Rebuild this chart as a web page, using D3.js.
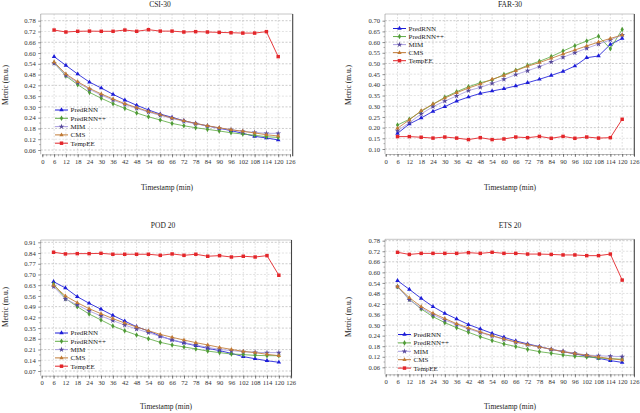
<!DOCTYPE html>
<html><head><meta charset="utf-8">
<script src="https://cdn.jsdelivr.net/npm/d3@7/dist/d3.min.js"></script>
<style>
body{margin:0;background:#fff}
svg{display:block}
text{font-family:"Liberation Serif","Times New Roman",serif}
</style>
</head><body>
<svg id="c" width="640" height="413"></svg>
<script>
// ---------------- data ----------------
const times = [6,12,18,24,30,36,42,48,54,60,66,72,78,84,90,96,102,108,114,120];
const xTickLabels = [0,6,12,18,24,30,36,42,48,54,60,66,72,78,84,90,96,102,108,114,120,126];
const seriesNames = ["PredRNN","PredRNN++","MIM","CMS","TempEE"];
const panelTitles = ["CSI-30","FAR-30","POD 20","ETS 20"];
const xAxisTitle = "Timestamp (min)";
const yAxisTitle = "Metric (m.u.)";

const yTicksCSI = [0.06,0.12,0.18,0.24,0.30,0.36,0.42,0.48,0.54,0.60,0.66,0.72,0.78];
const yTicksFAR = [0.10,0.15,0.20,0.25,0.30,0.35,0.40,0.45,0.50,0.55,0.60,0.65,0.70];
const yTicksPOD = [0.07,0.14,0.21,0.28,0.35,0.42,0.49,0.56,0.63,0.70,0.77,0.84,0.91];
const yTicksETS = [0.06,0.12,0.18,0.24,0.30,0.36,0.42,0.48,0.54,0.60,0.66,0.72,0.78];

// CSI-30
const csiPredRNN   = [0.580,0.531,0.483,0.438,0.405,0.370,0.338,0.309,0.283,0.260,0.242,0.223,0.208,0.194,0.181,0.168,0.153,0.136,0.127,0.116];
const csiPredRNNpp = [0.546,0.472,0.424,0.381,0.348,0.318,0.292,0.266,0.245,0.227,0.208,0.195,0.184,0.175,0.166,0.156,0.149,0.142,0.134,0.130];
const csiMIM       = [0.542,0.476,0.435,0.398,0.366,0.338,0.314,0.292,0.271,0.253,0.236,0.219,0.206,0.194,0.182,0.173,0.164,0.158,0.153,0.153];
const csiCMS       = [0.550,0.483,0.440,0.403,0.372,0.344,0.318,0.296,0.275,0.257,0.238,0.223,0.208,0.195,0.184,0.173,0.164,0.155,0.145,0.138];
const csiTempEE    = [0.728,0.717,0.721,0.722,0.721,0.721,0.728,0.721,0.730,0.722,0.722,0.717,0.719,0.717,0.715,0.713,0.711,0.711,0.719,0.580];

// FAR-30
const farPredRNN   = [0.173,0.217,0.245,0.276,0.298,0.324,0.343,0.360,0.371,0.382,0.395,0.410,0.426,0.444,0.463,0.488,0.527,0.535,0.589,0.617];
const farPredRNNpp = [0.212,0.239,0.276,0.309,0.342,0.368,0.391,0.410,0.423,0.448,0.468,0.491,0.510,0.532,0.558,0.583,0.605,0.627,0.569,0.659];
const farMIM       = [0.186,0.223,0.264,0.298,0.324,0.348,0.373,0.388,0.407,0.426,0.448,0.466,0.485,0.507,0.529,0.550,0.571,0.591,0.610,0.633];
const farCMS       = [0.197,0.236,0.279,0.310,0.338,0.363,0.385,0.404,0.426,0.444,0.466,0.487,0.504,0.524,0.544,0.563,0.582,0.600,0.617,0.633];
const farTempEE    = [0.158,0.158,0.155,0.151,0.156,0.151,0.144,0.153,0.144,0.147,0.156,0.153,0.159,0.150,0.159,0.150,0.156,0.151,0.153,0.239];

// POD-20
const podPredRNN   = [0.653,0.612,0.555,0.512,0.473,0.433,0.396,0.359,0.331,0.298,0.272,0.253,0.235,0.218,0.203,0.185,0.164,0.150,0.137,0.127];
const podPredRNNpp = [0.638,0.544,0.490,0.442,0.403,0.364,0.333,0.305,0.281,0.257,0.240,0.227,0.214,0.200,0.190,0.181,0.177,0.172,0.170,0.170];
const podMIM       = [0.621,0.540,0.501,0.462,0.429,0.399,0.370,0.344,0.320,0.296,0.274,0.255,0.240,0.224,0.211,0.203,0.196,0.192,0.190,0.190];
const podCMS       = [0.629,0.560,0.516,0.477,0.444,0.412,0.383,0.357,0.333,0.309,0.290,0.272,0.255,0.240,0.224,0.211,0.198,0.190,0.179,0.170];
const podTempEE    = [0.845,0.834,0.836,0.836,0.838,0.832,0.832,0.832,0.832,0.825,0.834,0.825,0.832,0.819,0.823,0.814,0.819,0.814,0.823,0.695];

// ETS-20
const etsPredRNN   = [0.553,0.503,0.452,0.405,0.367,0.335,0.303,0.278,0.253,0.231,0.210,0.193,0.178,0.162,0.149,0.136,0.124,0.111,0.098,0.088];
const etsPredRNNpp = [0.519,0.447,0.392,0.348,0.314,0.285,0.259,0.234,0.212,0.193,0.178,0.162,0.149,0.140,0.130,0.123,0.119,0.113,0.109,0.106];
const etsMIM       = [0.519,0.443,0.397,0.359,0.329,0.303,0.278,0.257,0.238,0.219,0.202,0.189,0.176,0.162,0.151,0.140,0.130,0.126,0.123,0.121];
const etsCMS       = [0.519,0.456,0.405,0.367,0.337,0.308,0.284,0.261,0.240,0.221,0.204,0.189,0.176,0.162,0.149,0.138,0.128,0.119,0.109,0.102];
const etsTempEE    = [0.714,0.702,0.708,0.708,0.708,0.708,0.712,0.708,0.714,0.708,0.708,0.704,0.704,0.702,0.699,0.699,0.695,0.695,0.704,0.556];

// ---------------- styling / layout ----------------
const styles = [
  {line:"#1c1cd8", mark:"#1c1cd8", sym:d3.symbolTriangle, size:9},
  {line:"#62ad48", mark:"#4f9a36", sym:d3.symbolDiamond, size:9},
  {line:"#a99de0", mark:"#56489a", sym:d3.symbolStar, size:10},
  {line:"#c07a35", mark:"#c07a35", sym:d3.symbolTriangle, size:8},
  {line:"#e3262a", mark:"#e3262a", sym:d3.symbolSquare, size:12}
];

const panels = [
  {series:[csiPredRNN,csiPredRNNpp,csiMIM,csiCMS,csiTempEE], yTicks:yTicksCSI, title:panelTitles[0],
   xr:[42.3,290], yd:[0.06,0.78], yr:[150,20.7], box:[40.7,292.7,14,154.3],
   titleXY:[160,4.5], xtXY:[167,187.5], ytXY:[5,85], leg:[55,110,8.3]},
  {series:[farPredRNN,farPredRNNpp,farMIM,farCMS,farTempEE], yTicks:yTicksFAR, title:panelTitles[1],
   xr:[385.7,634], yd:[0.10,0.70], yr:[149,20.7], box:[385,634.3,14,154],
   titleXY:[510,4.5], xtXY:[510,187.5], ytXY:[348,85], leg:[393,28.5,8.05]},
  {series:[podPredRNN,podPredRNNpp,podMIM,podCMS,podTempEE], yTicks:yTicksPOD, title:panelTitles[2],
   xr:[41.7,290.7], yd:[0.07,0.91], yr:[371,242.3], box:[40.7,291.5,240,375.7],
   titleXY:[163,225.5], xtXY:[166,406.5], ytXY:[5,307], leg:[55,333,8.3]},
  {series:[etsPredRNN,etsPredRNNpp,etsMIM,etsCMS,etsTempEE], yTicks:yTicksETS, title:panelTitles[3],
   xr:[385.7,634], yd:[0.06,0.78], yr:[367.3,240.7], box:[385,634.3,239.3,374.3],
   titleXY:[510,225.5], xtXY:[510,406.5], ytXY:[348,317], leg:[398,334.5,8.4]}
];

const svg = d3.select("#c");
const fmt = d3.format(".2f");

panels.forEach(p => {
  const x = d3.scaleLinear().domain([0,126]).range(p.xr);
  const y = d3.scaleLinear().domain(p.yd).range(p.yr);
  const [bx0,bx1,by0,by1] = p.box;
  const g = svg.append("g");

  // vertical grid
  g.append("g").selectAll("line").data(times).join("line")
    .attr("x1",d=>x(d)).attr("x2",d=>x(d)).attr("y1",by0).attr("y2",by1)
    .attr("stroke","#c4c4c4").attr("stroke-width",0.6).attr("stroke-dasharray","1.6,1.6");
  // horizontal grid
  g.append("g").selectAll("line").data(p.yTicks).join("line")
    .attr("x1",bx0).attr("x2",bx1).attr("y1",d=>y(d)).attr("y2",d=>y(d))
    .attr("stroke",(d,i)=> i%2===0 ? "#a8a8a8" : "#cfcfcf").attr("stroke-width",0.6).attr("stroke-dasharray","2,1.6");

  // frame
  g.append("line").attr("x1",bx0).attr("x2",bx1).attr("y1",by0).attr("y2",by0).attr("stroke","#b8b8b8").attr("stroke-width",0.8);
  g.append("line").attr("x1",bx1).attr("x2",bx1).attr("y1",by0).attr("y2",by1+2).attr("stroke","#444").attr("stroke-width",1.1);

  // x axis
  const xMinor = d3.range(0,127,2);
  const xa = g.append("g").attr("transform",`translate(0,${by1})`)
    .call(d3.axisBottom(x).tickValues(xMinor).tickSize(2).tickFormat(""));
  xa.select(".domain").attr("stroke","#8a8a8a").attr("stroke-width",0.6);
  xa.selectAll(".tick line").attr("stroke","#666").attr("stroke-width",0.5);
  const xb = g.append("g").attr("transform",`translate(0,${by1})`)
    .call(d3.axisBottom(x).tickValues(xTickLabels).tickSize(3).tickPadding(2).tickFormat(d3.format("d")));
  xb.select(".domain").remove();
  xb.selectAll(".tick line").attr("stroke","#444").attr("stroke-width",0.6);
  xb.selectAll(".tick text").attr("font-size",6.6).attr("fill","#333")
    .style("font-family","'Liberation Serif',serif");

  // y axis
  const ya = g.append("g").attr("transform",`translate(${bx0},0)`)
    .call(d3.axisLeft(y).tickValues(p.yTicks).tickSize(2.5).tickPadding(2.5).tickFormat(fmt));
  ya.select(".domain").attr("stroke","#8a8a8a").attr("stroke-width",0.6).attr("d",`M0,${by0}V${by1}`);
  ya.selectAll(".tick line").attr("stroke","#444").attr("stroke-width",0.6);
  ya.selectAll(".tick text").attr("font-size",6.6).attr("fill","#333")
    .style("font-family","'Liberation Serif',serif");
  const step = p.yTicks[1]-p.yTicks[0];
  const yMinor = p.yTicks.slice(0,-1).map(v=>v+step/2);
  g.append("g").selectAll("line").data(yMinor).join("line")
    .attr("x1",bx0-1.5).attr("x2",bx0).attr("y1",d=>y(d)).attr("y2",d=>y(d))
    .attr("stroke","#666").attr("stroke-width",0.5);

  // series
  const line = d3.line().x((d,i)=>x(times[i])).y(d=>y(d));
  p.series.forEach((vals,si) => {
    const st = styles[si];
    g.append("path").datum(vals).attr("d",line).attr("fill","none")
      .attr("stroke",st.line).attr("stroke-width",si===4?0.9:0.85);
    g.append("g").selectAll("path").data(vals).join("path")
      .attr("transform",(d,i)=>`translate(${x(times[i])},${y(d)})`)
      .attr("d",d3.symbol().type(st.sym).size(st.size)).attr("fill",st.mark);
  });

  // legend
  const [lx,ly,ldy] = p.leg;
  seriesNames.forEach((nm,si) => {
    const st = styles[si];
    const yy = ly + si*ldy;
    g.append("line").attr("x1",lx).attr("x2",lx+13).attr("y1",yy).attr("y2",yy)
      .attr("stroke",st.line).attr("stroke-width",1);
    g.append("path").attr("transform",`translate(${lx+6.5},${yy})`)
      .attr("d",d3.symbol().type(st.sym).size(st.size)).attr("fill",st.mark);
    g.append("text").attr("x",lx+15.5).attr("y",yy).attr("dy","0.35em")
      .attr("font-size",7).attr("fill","#222").text(nm);
  });

  // titles
  g.append("text").attr("x",p.titleXY[0]).attr("y",p.titleXY[1]).attr("dy","0.35em")
    .attr("text-anchor","middle").attr("font-size",7.5).attr("fill","#222").text(p.title);
  g.append("text").attr("x",p.xtXY[0]).attr("y",p.xtXY[1]).attr("dy","0.35em")
    .attr("text-anchor","middle").attr("font-size",7.5).attr("fill","#222").text(xAxisTitle);
  g.append("text").attr("transform",`translate(${p.ytXY[0]},${p.ytXY[1]}) rotate(-90)`).attr("dy","0.35em")
    .attr("text-anchor","middle").attr("font-size",7.5).attr("fill","#222").text(yAxisTitle);
});
</script>
</body></html>
